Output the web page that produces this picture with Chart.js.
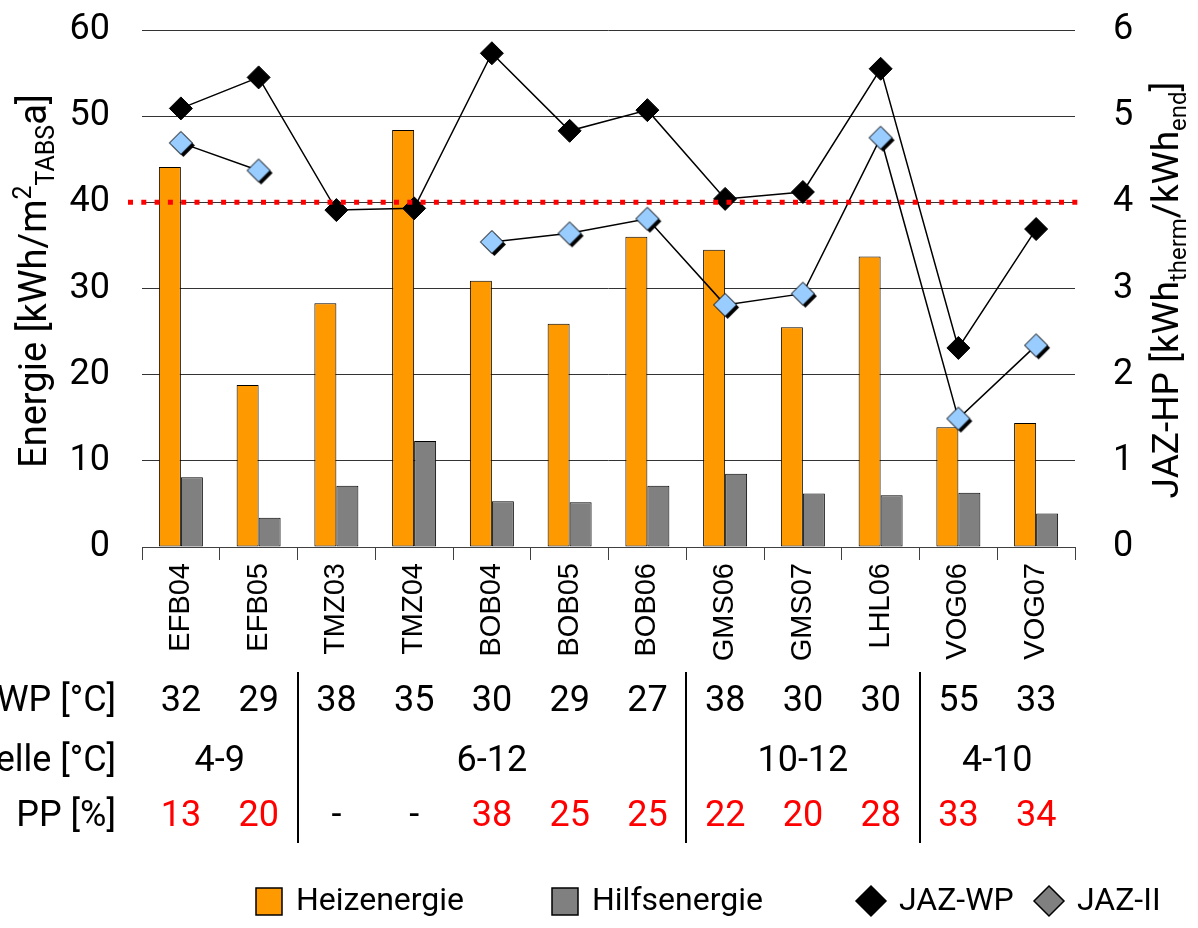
<!DOCTYPE html>
<html>
<head>
<meta charset="utf-8">
<script src="https://cdn.jsdelivr.net/npm/chart.js@4.4.1/dist/chart.umd.min.js"></script>
<style>
  html, body { margin: 0; padding: 0; background: #fff; }
  #wrap { width: 1198px; height: 928px; }
</style>
</head>
<body>
<div id="wrap"><canvas id="chart" width="1198" height="928"></canvas></div>
<script>
// Messstellen
const sites = ['EFB04', 'EFB05', 'TMZ03', 'TMZ04', 'BOB04', 'BOB05', 'BOB06', 'GMS06', 'GMS07', 'LHL06', 'VOG06', 'VOG07'];

// Energie [kWh/m2 a]
const heizenergie = [44.1, 18.8, 28.3, 48.4, 30.9, 25.9, 36.0, 34.5, 25.5, 33.7, 13.9, 14.4];
const hilfsenergie = [8.1, 3.4, 7.1, 12.3, 5.3, 5.2, 7.1, 8.5, 6.2, 6.0, 6.3, 3.9];

// JAZ [kWh therm / kWh end]
const jazWP = [5.09, 5.45, 3.91, 3.93, 5.73, 4.83, 5.07, 4.04, 4.12, 5.55, 2.31, 3.69];
const jazII = [4.69, 4.37, null, null, 3.54, 3.64, 3.81, 2.81, 2.94, 4.75, 1.49, 2.34];

// Zielwert (rote Linie)
const refLevel = 40;

// Tabelle unter dem Diagramm
const rowLabels = ['Vorlauf WP [°C]', 'Quelle [°C]', 'Anteil   PP [%]'];
const vlWP = ['32', '29', '38', '35', '30', '29', '27', '38', '30', '30', '55', '33'];
const quelleLabels = ['4-9', '6-12', '10-12', '4-10'];
const quelleFrom = [0, 2, 7, 10];
const quelleTo = [1, 6, 9, 11];
const ppShare = ['13', '20', '-', '-', '38', '25', '25', '22', '20', '28', '33', '34'];

const FONT = 'Roboto, "Open Sans", sans-serif';

function makeDiamond(fill, shadow) {
  const c = document.createElement('canvas');
  c.width = 34; c.height = 34;
  const g = c.getContext('2d');
  const r = 11.5;
  const path = (x, y) => {
    g.beginPath();
    g.moveTo(x, y - r); g.lineTo(x + r, y); g.lineTo(x, y + r); g.lineTo(x - r, y);
    g.closePath();
  };
  if (shadow) { path(19.5, 19.5); g.fillStyle = shadow; g.fill(); }
  path(17, 17);
  g.fillStyle = fill; g.fill();
  g.strokeStyle = '#000'; g.lineWidth = 1; g.stroke();
  return c;
}
const blueDiamond = makeDiamond('#99CCFF', '#000');

function drawRich(ctx, parts, cx, cy, size) {
  ctx.save();
  ctx.translate(cx, cy);
  ctx.rotate(-Math.PI / 2);
  const fontFor = m => (m ? Math.round(size * 0.65) : size) + 'px ' + FONT;
  let total = 0;
  parts.forEach(p => { ctx.font = fontFor(p[1]); total += ctx.measureText(p[0]).width; });
  let x = -total / 2;
  ctx.textAlign = 'left';
  ctx.textBaseline = 'alphabetic';
  ctx.fillStyle = '#000';
  parts.forEach(p => {
    ctx.font = fontFor(p[1]);
    const dy = p[1] === 1 ? -size * 0.4 : (p[1] === -1 ? size * 0.22 : 0);
    ctx.fillText(p[0], x, dy);
    x += ctx.measureText(p[0]).width;
  });
  ctx.restore();
}

// the tick padding would otherwise be added above the plot area
function fixY(width) {
  return s => { s.width = width; s.paddingTop = 0; s.paddingBottom = 0; };
}

const extras = {
  id: 'extras',
  afterDatasetsDraw(chart) {
    const { ctx, chartArea, scales } = chart;
    const y = scales.y.getPixelForValue(refLevel);
    ctx.save();
    ctx.strokeStyle = '#FF0000';
    ctx.lineWidth = 5;
    ctx.setLineDash([5, 8.3]);
    ctx.beginPath();
    ctx.moveTo(chartArea.left - 14, y);
    ctx.lineTo(chartArea.right + 5, y);
    ctx.stroke();
    ctx.restore();
  },
  afterDraw(chart) {
    const { ctx, scales } = chart;
    const xs = scales.x;

    // axis titles
    drawRich(ctx, [['Energie [kWh/m', 0], ['2', 1], ['TABS', -1], ['a]', 0]], 46, 281, 38);
    drawRich(ctx, [['JAZ-HP [kWh', 0], ['therm', -1], ['/kWh', 0], ['end', -1], [']', 0]], 1178, 290, 37);

    // table
    ctx.save();
    ctx.font = '36px ' + FONT;
    ctx.textBaseline = 'middle';
    const rowY = [702, 762, 817];
    ctx.fillStyle = '#000';
    ctx.textAlign = 'right';
    rowLabels.forEach((t, r) => ctx.fillText(t, 116, rowY[r]));
    ctx.textAlign = 'center';
    sites.forEach((s, i) => {
      const x = xs.getPixelForValue(i);
      ctx.fillStyle = '#000';
      ctx.fillText(vlWP[i], x, rowY[0]);
      ctx.fillStyle = ppShare[i] === '-' ? '#000' : '#FF0000';
      ctx.fillText(ppShare[i], x, rowY[2]);
    });
    ctx.fillStyle = '#000';
    quelleLabels.forEach((t, g) => {
      const x = (xs.getPixelForValue(quelleFrom[g]) + xs.getPixelForValue(quelleTo[g])) / 2;
      ctx.fillText(t, x, rowY[1]);
    });
    ctx.strokeStyle = '#000';
    ctx.lineWidth = 2;
    for (let g = 1; g < quelleFrom.length; g++) {
      const x = Math.round((xs.getPixelForValue(quelleTo[g - 1]) + xs.getPixelForValue(quelleFrom[g])) / 2);
      ctx.beginPath();
      ctx.moveTo(x, 672);
      ctx.lineTo(x, 843);
      ctx.stroke();
    }

    // legend
    const ly = 901;
    const items = [
      { ds: 0, x: 256, kind: 'box', fill: '#FF9900' },
      { ds: 1, x: 552, kind: 'box', fill: '#808080' },
      { ds: 2, x: 855, kind: 'dia', fill: '#000000' },
      { ds: 3, x: 1033, kind: 'dia', fill: '#808080' }
    ];
    ctx.font = '32px ' + FONT;
    ctx.textAlign = 'left';
    ctx.textBaseline = 'middle';
    ctx.lineWidth = 1.5;
    items.forEach(it => {
      ctx.fillStyle = it.fill;
      ctx.strokeStyle = '#000';
      let tx;
      if (it.kind === 'box') {
        ctx.fillRect(it.x, ly - 13, 26, 27);
        ctx.strokeRect(it.x, ly - 13, 26, 27);
        tx = it.x + 40;
      } else {
        const cx = it.x + 16;
        ctx.beginPath();
        ctx.moveTo(cx, ly - 15); ctx.lineTo(cx + 15, ly); ctx.lineTo(cx, ly + 15); ctx.lineTo(cx - 15, ly);
        ctx.closePath();
        ctx.fill(); ctx.stroke();
        tx = it.x + 44;
      }
      ctx.fillStyle = '#000';
      ctx.fillText(chart.data.datasets[it.ds].label, tx, ly + 1);
    });
    ctx.restore();
  }
};

new Chart(document.getElementById('chart'), {
  type: 'bar',
  data: {
    labels: sites,
    datasets: [
      {
        label: 'Heizenergie', data: heizenergie, yAxisID: 'y', order: 3,
        backgroundColor: '#FF9900', borderColor: '#000', borderWidth: 1, borderSkipped: false,
        barPercentage: 1, categoryPercentage: 0.566
      },
      {
        label: 'Hilfsenergie', data: hilfsenergie, yAxisID: 'y', order: 3,
        backgroundColor: '#808080', borderColor: '#000', borderWidth: 1, borderSkipped: false,
        barPercentage: 1, categoryPercentage: 0.566
      },
      {
        type: 'line', label: 'JAZ-WP', data: jazWP, yAxisID: 'y1', order: 1,
        borderColor: '#000', borderWidth: 1.5, fill: false, tension: 0,
        pointStyle: 'rectRot', pointRadius: 11.5, pointBackgroundColor: '#000', pointBorderColor: '#000', pointBorderWidth: 1
      },
      {
        type: 'line', label: 'JAZ-II', data: jazII, yAxisID: 'y1', order: 0,
        borderColor: '#000', borderWidth: 1.5, fill: false, tension: 0, spanGaps: false,
        pointStyle: blueDiamond, pointRadius: 11.5
      }
    ]
  },
  options: {
    responsive: false,
    animation: false,
    devicePixelRatio: 1,
    layout: { padding: { top: 30, left: 0, right: 0, bottom: 0 } },
    plugins: {
      legend: { display: false },
      tooltip: { enabled: false }
    },
    scales: {
      x: {
        grid: { offset: true, drawOnChartArea: false, drawTicks: true, tickLength: 13, color: '#404040', lineWidth: 1 },
        border: { display: true, color: '#404040', width: 1 },
        ticks: {
          minRotation: 90, maxRotation: 90, autoSkip: false, padding: 3, color: '#000',
          font: { family: '"Liberation Sans", Arial, sans-serif', size: 29 }
        },
        afterFit(s) { s.height = 381; }
      },
      y: {
        position: 'left', min: 0, max: 60,
        ticks: { stepSize: 10, padding: 32, color: '#000', font: { family: FONT, size: 36 } },
        grid: { color: '#333', lineWidth: 1, drawTicks: false },
        border: { display: false },
        afterFit: fixY(142)
      },
      y1: {
        position: 'right', min: 0, max: 6,
        ticks: { stepSize: 1, padding: 30, color: '#000', font: { family: FONT, size: 36 } },
        grid: { display: false },
        border: { display: false },
        afterFit: fixY(123)
      }
    }
  },
  plugins: [extras]
});
</script>
</body>
</html>
